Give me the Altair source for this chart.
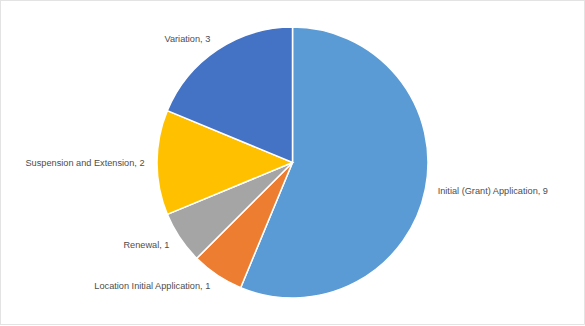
import altair as alt
import pandas as pd

categories = ["Initial (Grant) Application", "Location Initial Application", "Renewal",
              "Suspension and Extension", "Variation"]
counts = [9, 1, 1, 2, 3]
colors = ["#5B9BD5", "#ED7D31", "#A5A5A5", "#FFC000", "#4472C4"]

df = pd.DataFrame({
    "category": categories,
    "count": counts,
    "idx": list(range(len(categories))),
})
df["label"] = df["category"] + ", " + df["count"].astype(str)

W, H = 585, 325

base = alt.Chart(df).encode(
    theta=alt.Theta("count:Q", stack=True),
    order=alt.Order("idx:Q"),
)

pie = base.mark_arc(outerRadius=135.5, stroke="white", strokeWidth=1.5).encode(
    color=alt.Color("category:N", scale=alt.Scale(domain=categories, range=colors), legend=None)
)

text_common = dict(radius=148, fontSize=9.2, font="Liberation Sans", color="#4D4D4D", baseline="middle")

labels_right = base.mark_text(align="left", **text_common).encode(
    text="labelR:N"
).transform_calculate(labelR="datum.idx == 0 ? datum.label : ''")

labels_left = base.mark_text(align="right", **text_common).encode(
    text="labelL:N"
).transform_calculate(labelL="datum.idx > 0 ? datum.label : ''")

frame = alt.Chart(pd.DataFrame({"f": [0]})).mark_rect(
    fillOpacity=0, stroke="#E3E3E3", strokeWidth=1
).encode(
    x=alt.value(0.5), x2=alt.value(W - 0.5), y=alt.value(0.5), y2=alt.value(H - 0.5)
)

chart = alt.layer(pie, labels_right, labels_left, frame).properties(
    width=W, height=H,
    autosize=alt.AutoSizeParams(type="none"),
    padding=0,
).configure_view(stroke=None).configure(background="white")

chart.save("out.html", embed_options={"renderer": "svg", "actions": False})
